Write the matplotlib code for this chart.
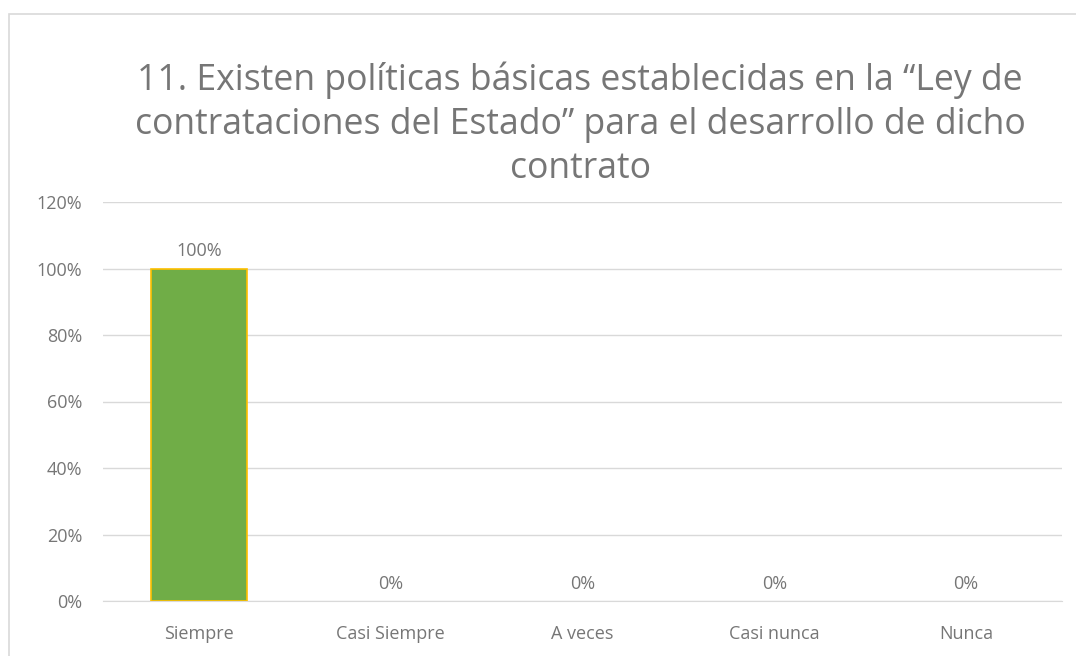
import matplotlib.pyplot as plt
import numpy as np

categories = ['Siempre', 'Casi Siempre', 'A veces', 'Casi nunca', 'Nunca']
values = [1.00, 0.0, 0.0, 0.0, 0.0]
title = ('11. Existen políticas básicas establecidas en la \u201cLey de\n'
         'contrataciones del Estado\u201d para el desarrollo de dicho\ncontrato')

plt.rcParams['font.family'] = ['Open Sans', 'DejaVu Sans']
gray = '#767676'

fig = plt.figure(figsize=(10.76, 6.56), dpi=100)
# outer chart border
fig.patches.append(plt.Rectangle((9 / 1076, -0.01), 1.02, 1 - 14 / 656 + 0.01,
                                 transform=fig.transFigure, fill=False,
                                 edgecolor='#d9d9d9', linewidth=1.2))

ax = fig.add_axes([103 / 1076, 1 - 601 / 656, (1062 - 103) / 1076, (601 - 202) / 656])
x = np.arange(len(categories))
lw = [1.2 if v > 0 else 0 for v in values]
ax.bar(x, values, width=0.5, color='#70ad47', edgecolor='#ffc000', linewidth=lw, zorder=3)

for xi, v in zip(x, values):
    ax.text(xi, v + 0.025, f'{v:.0%}', ha='center', va='bottom', fontsize=13, color=gray)

ax.set_xlim(-0.5, len(categories) - 0.5)
ax.set_ylim(0, 1.2)
ax.set_yticks(np.arange(0, 1.21, 0.2))
ax.set_yticklabels([f'{t:.0%}' for t in np.arange(0, 1.21, 0.2)])
ax.set_xticks(x)
ax.set_xticklabels(categories)
ax.tick_params(axis='both', length=0, labelsize=13, labelcolor=gray)
ax.tick_params(axis='y', pad=15)
ax.tick_params(axis='x', pad=17)
ax.grid(axis='y', color='#d9d9d9', linewidth=1, zorder=0)
for s in ['top', 'right', 'left']:
    ax.spines[s].set_visible(False)
ax.spines['bottom'].set_color('#d9d9d9')

fig.text(580 / 1076, 1 - 124 / 656, title, ha='center', va='center',
         fontsize=25.6, color=gray, linespacing=1.29)

fig.savefig('out.png', dpi=100)
